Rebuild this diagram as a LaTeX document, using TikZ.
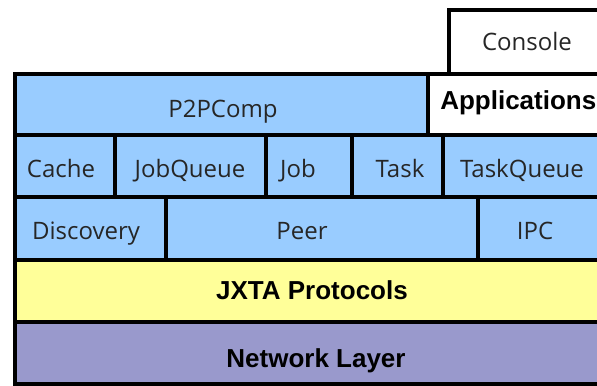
\documentclass[tikz,border=0pt]{standalone}
\usepackage{fontspec}
\setmainfont{Open Sans}
\newfontfamily\boldsans{Liberation Sans}
\definecolor{compblue}{HTML}{99CCFF}
\definecolor{jxtayellow}{HTML}{FFFF99}
\definecolor{netpurple}{HTML}{9999CC}

\begin{document}
\begin{tikzpicture}[x=0.75pt,y=-0.75pt,
  box/.style={line width=3pt,draw=black},
  lbl/.style={anchor=base,font=\fontsize{18}{20}\selectfont,text=black!85},
  hdr/.style={anchor=base,font=\boldsans\bfseries\fontsize{19.5}{22}\selectfont},
]

%% Layout parameters (pixel grid of the frame)
\def\xL{15}     % left edge
\def\xR{612}    % right edge, cut off by the frame
\def\yC{10}     % console top
\def\yA{74}
\def\yB{135}
\def\yD{197}
\def\yE{260}
\def\yF{322}
\def\yG{384}

\useasboundingbox (0,0) rectangle (597,386);
\clip (0,0) rectangle (597,386);

%% ---- Console ----
\draw[box,fill=white] (449,\yC) rectangle (\xR,\yA);
\node[lbl] (console) at (527,50) {Console};

%% ---- P2PComp / Applications ----
\draw[box,fill=compblue] (\xL,\yA) rectangle (428,\yB);
\draw[box,fill=white] (428,\yA) rectangle (\xR,\yB);
\node[lbl] (p2pcomp) at (223,117) {P2PComp};
\node[hdr,anchor=base west,inner sep=0pt] (apps) at (440,109) {Applications};

%% ---- Components ----
\draw[box,fill=compblue] (\xL,\yB) rectangle (115,\yD);
\draw[box,fill=compblue] (115,\yB) rectangle (266,\yD);
\draw[box,fill=compblue] (266,\yB) rectangle (352,\yD);
\draw[box,fill=compblue] (352,\yB) rectangle (443,\yD);
\draw[box,fill=compblue] (443,\yB) rectangle (\xR,\yD);
\node[lbl] (cache) at (61,177) {Cache};
\node[lbl] (jobqueue) at (190,177) {JobQueue};
\node[lbl] (job) at (298,177) {Job};
\node[lbl] (task) at (400,177) {Task};
\node[lbl] (taskqueue) at (522,177) {TaskQueue};

%% ---- Discovery / Peer / IPC ----
\draw[box,fill=compblue] (\xL,\yD) rectangle (166,\yE);
\draw[box,fill=compblue] (166,\yD) rectangle (478,\yE);
\draw[box,fill=compblue] (478,\yD) rectangle (\xR,\yE);
\node[lbl] (discovery) at (86,239) {Discovery};
\node[lbl] (peer) at (302,239) {Peer};
\node[lbl] (ipc) at (535,239) {IPC};

%% ---- JXTA ----
\draw[box,fill=jxtayellow] (\xL,\yE) rectangle (\xR,\yF);
\node[hdr] (jxta) at (312,299) {JXTA Protocols};

%% ---- Network ----
\draw[box,fill=netpurple] (\xL,\yF) rectangle (\xR,\yG);
\node[hdr] (network) at (316,367) {Network Layer};

\end{tikzpicture}
\end{document}
